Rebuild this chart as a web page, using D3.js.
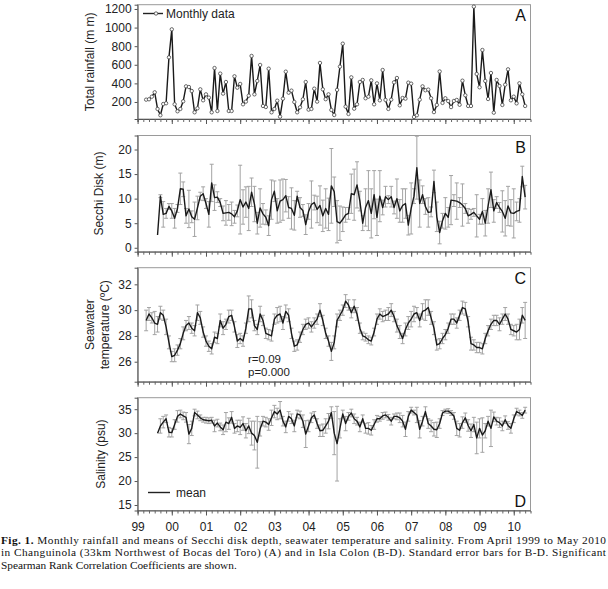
<!DOCTYPE html>
<html><head><meta charset="utf-8">
<script src="https://cdn.jsdelivr.net/npm/d3@7"></script>
<style>html,body{margin:0;padding:0;background:#fff}svg{display:block}</style>
</head><body><svg id="c" width="608" height="589"></svg>
<script>
// ---- DATA (monthly, April 1999 .. May 2010; index 0 = Apr 1999) ----
const startYear = 1999, startMonth = 3; // April (0-based month)
const yearLabels = ["99","00","01","02","03","04","05","06","07","08","09","10"];
const rainTicks = [200,400,600,800,1000,1200];
const secchiTicks = [0,5,10,15,20];
const tempTicks = [26,28,30,32];
const salTicks = [15,20,25,30,35];

const rainfall = [225,229,257,304,125,57,178,186,680,981,
175,100,125,207,368,361,318,89,132,336,
218,282,247,89,565,103,505,290,415,103,
103,476,354,394,175,204,268,695,282,426,
598,157,146,558,89,125,214,42,236,526,
300,322,200,89,143,229,415,118,125,343,
204,620,336,230,282,114,60,330,580,827,
150,71,465,128,175,415,437,240,257,433,
175,400,218,544,222,125,225,411,458,164,
243,236,408,397,39,57,225,368,326,333,
240,91,168,528,190,240,210,145,211,222,
170,429,272,157,157,1225,501,358,759,426,
232,512,85,437,372,168,386,551,218,257,
185,401,282,157];

const secchi = [null,null,null,null,2.6,10.5,6.8,7.0,8.4,7.5,
6.0,8.0,12.0,11.9,6.5,7.9,6.3,5.8,8.1,10.5,
11.0,9.0,6.8,13.2,10.2,10.3,9.2,7.0,7.1,7.2,
6.9,6.3,7.5,9.8,8.3,9.3,8.0,11.3,8.9,5.0,
8.1,6.9,6.2,4.5,9.8,11.5,7.5,9.5,9.8,10.6,
8.2,8.0,6.6,10.5,8.2,7.6,4.7,7.4,8.8,9.2,
7.8,8.6,6.5,8.0,6.8,12.6,11.4,5.3,5.0,5.8,
6.7,7.0,11.0,10.8,12.8,9.5,5.0,8.2,9.6,7.0,
10.8,6.2,10.5,8.2,10.4,9.8,10.4,8.2,10.0,7.5,
8.6,9.0,4.6,8.0,10.5,16.3,9.0,10.8,8.4,7.2,
7.3,13.5,6.3,3.1,5.5,7.0,6.2,9.7,9.6,9.5,
9.2,8.7,8.0,6.5,6.8,7.2,6.5,5.8,7.4,5.0,
8.5,11.8,7.5,9.2,8.2,7.4,6.0,8.5,7.1,7.0,
7.4,7.6,14.5,10.3];
const secchiSE = [0,0,0,0,0,0.3,2.6,1.0,0.6,1.5,
2.0,0.8,3.2,1.5,1.5,3.8,1.2,3.5,2.4,0.8,
1.4,1.0,2.6,3.8,2.6,1.1,0.8,1.5,2.5,1.6,
2.4,1.3,1.2,7.0,3.5,3.1,4.5,2.9,3.6,2.2,
3.9,2.1,1.5,2.0,4.0,2.1,2.5,4.3,4.2,3.3,
2.2,4.2,3.0,1.0,2.0,1.2,2.0,1.6,4.8,1.5,
2.7,4.0,3.2,4.0,3.3,7.6,3.0,4.3,3.5,2.5,
1.5,1.2,4.0,5.2,4.7,2.0,1.5,3.8,6.1,5.0,
4.9,3.7,5.2,1.5,2.1,0.8,2.1,1.3,4.0,2.3,
3.4,3.0,2.0,5.2,1.5,6.4,4.8,1.8,1.6,3.0,
1.0,2.3,3.0,2.3,1.5,3.2,2.0,5.0,1.2,3.7,
1.0,4.3,1.0,1.5,1.0,0.8,4.3,1.0,2.6,2.6,
3.5,3.6,2.3,1.2,1.0,4.2,3.6,4.0,2.7,5.0,
1.9,2.4,2.1,2.4];

const temperature = [29.2,29.7,29.4,29.0,28.9,29.8,29.6,28.7,27.5,26.4,
26.5,26.9,27.4,28.2,28.8,29.0,28.6,28.4,29.8,29.4,
28.3,27.6,27.2,27.0,27.9,27.8,29.2,28.6,28.9,29.5,
29.6,28.7,27.6,27.8,27.6,28.6,30.1,30.1,28.8,28.5,
29.7,29.2,28.2,28.1,28.0,29.3,29.6,29.7,29.0,29.9,
29.6,28.2,27.2,27.3,27.9,28.5,28.9,29.0,28.7,29.0,
29.3,30.0,29.2,28.2,27.6,26.8,27.5,29.2,29.6,30.0,
30.7,30.4,29.8,30.3,29.7,28.6,28.0,27.9,27.7,27.6,
28.3,29.3,29.7,29.5,29.6,29.7,30.0,29.5,28.8,28.3,
27.8,28.5,29.0,29.3,29.7,29.8,29.2,29.9,30.0,30.2,
29.4,28.6,27.3,27.4,27.8,28.1,28.6,29.3,29.3,29.0,
29.6,30.2,30.1,29.1,27.4,27.3,27.1,27.1,27.0,27.8,
28.4,28.9,29.2,29.2,28.9,29.3,29.7,29.3,28.5,28.4,
28.3,28.5,29.6,29.2];
const temperatureSE = [0.8,0.5,0.4,0.9,0.6,0.5,0.4,0.6,0.5,0.4,
0.5,0.4,0.4,0.5,0.4,0.5,0.4,0.4,0.6,0.5,
0.4,0.4,0.4,0.4,0.4,0.4,0.5,0.5,0.4,0.5,
0.4,0.4,0.5,0.4,0.4,0.4,1.0,0.7,0.4,0.4,
0.6,0.4,0.4,0.4,0.4,0.4,0.6,0.6,0.5,0.5,
0.5,0.4,0.4,0.4,0.4,0.4,0.4,0.4,0.4,0.4,
0.4,0.5,0.4,0.4,0.4,0.7,0.5,0.5,0.4,0.4,
0.5,0.4,0.4,0.5,0.5,0.4,0.3,0.3,0.3,0.3,
0.3,0.4,0.4,0.4,0.4,0.5,0.5,0.4,0.5,0.5,
0.4,0.5,0.5,0.6,0.6,0.4,0.5,0.6,0.8,0.6,
0.5,0.5,0.4,0.4,0.4,0.4,0.4,0.4,0.4,0.4,
0.4,0.5,0.5,0.4,0.5,0.4,0.4,0.4,0.4,0.4,
0.4,0.4,0.4,0.4,0.5,0.4,0.5,0.4,0.4,0.4,
0.6,0.8,0.6,1.4];

const salinity = [null,null,null,null,30.0,31.5,32.3,33.0,30.2,30.1,
31.8,33.5,34.0,33.6,33.3,29.8,31.0,34.3,33.8,33.2,
32.8,32.7,32.6,32.7,31.5,32.1,31.3,30.7,32.3,32.0,
33.3,31.0,31.5,31.2,32.0,30.5,31.5,30.0,29.5,28.1,
30.9,32.5,32.3,31.8,33.2,34.5,34.0,34.8,32.5,31.3,
33.5,33.0,31.5,34.0,33.8,32.5,29.8,31.5,33.2,33.8,
32.0,30.5,30.6,31.5,32.5,34.3,30.0,27.8,31.0,34.0,
32.0,33.5,34.2,33.0,32.5,31.3,33.0,31.0,31.0,30.6,
31.8,33.0,33.0,33.6,33.8,33.3,32.5,33.5,33.5,33.2,
32.5,30.8,33.5,34.8,34.3,33.8,30.8,32.5,34.5,32.0,
31.5,30.8,30.7,32.0,34.2,34.6,34.6,34.2,33.6,31.0,
30.6,32.2,33.2,31.6,30.5,31.8,29.0,31.0,29.6,30.5,
32.5,31.0,33.4,32.5,32.2,31.5,32.8,31.6,31.0,33.0,
34.5,34.2,33.7,34.8];
const salinitySE = [0,0,0,0,0,1.5,1.2,0.8,1.0,0.9,
1.0,1.2,0.8,0.8,1.0,2.0,1.5,0.7,0.8,0.6,
0.5,0.6,0.6,0.6,1.2,0.8,0.8,1.0,2.0,1.2,
1.2,1.0,1.2,1.5,1.4,1.5,1.6,2.5,3.0,5.4,
1.5,1.0,1.0,1.2,1.6,1.3,1.2,1.8,1.0,1.2,
1.0,1.0,1.2,0.8,0.8,1.3,2.8,1.2,1.0,0.7,
1.0,1.2,1.3,1.5,1.6,1.2,4.5,7.8,2.0,0.8,
1.5,0.8,0.8,1.0,0.8,1.0,0.8,1.0,1.2,1.0,
1.0,0.7,0.5,0.7,0.6,0.6,0.8,0.5,0.7,1.0,
1.2,1.5,1.0,0.6,0.5,1.6,1.8,1.0,1.0,1.0,
1.2,1.4,1.6,1.0,0.5,0.4,0.5,0.5,0.7,1.5,
1.4,1.2,1.0,1.2,1.4,1.5,3.3,2.0,3.6,1.5,
1.0,3.8,1.0,0.8,1.0,1.0,0.8,0.8,1.0,0.8,
0.7,0.6,0.6,0.6];

const caption1a = "Fig. 1.";
const caption1b = " Monthly rainfall and means of Secchi disk depth, seawater temperature and salinity. From April 1999 to May 2010";
const caption2 = "in Changuinola (33km Northwest of Bocas del Toro) (A) and in Isla Colon (B-D). Standard error bars for B-D. Significant";
const caption3 = "Spearman Rank Correlation Coefficients are shown.";

// ---- CHART ----
const svg = d3.select("#c");
const FONT = "Liberation Sans, Arial, sans-serif";
const tOf = i => startYear + (startMonth + i) / 12;
const x = d3.scaleLinear().domain([1999, 2010.49]).range([137.6, 530.5]);

const panels = [
  {key:"A", top:4.7, bottom:119, domain:[17,1246], ticks:rainTicks, vals:rainfall, se:null,
   title:["Total rainfall (m m)"], titleX:[90], letterY:15},
  {key:"B", top:135.5, bottom:251.7, domain:[-0.8,22.85], ticks:secchiTicks, vals:secchi, se:secchiSE,
   title:["Secchi Disk (m)"], titleX:[99], letterY:147},
  {key:"C", top:267.7, bottom:381.7, domain:[24.45,33.29], ticks:tempTicks, vals:temperature, se:temperatureSE,
   title:["Seawater","temperature (ºC)"], titleX:[90,105], letterY:278},
  {key:"D", top:397.7, bottom:510.5, domain:[13.85,37.4], ticks:salTicks, vals:salinity, se:salinitySE,
   title:["Salinity (psu)"], titleX:[101], letterY:501}
];

const minorTicks = d3.range(0, 69).map(k => 1999 + k/6).filter(v => v <= 2010.49);
const majorTicks = d3.range(1999, 2011);

panels.forEach((p, pi) => {
  const y = d3.scaleLinear().domain(p.domain).range([p.bottom, p.top]);
  const g = svg.append("g");
  // frame
  g.append("rect").attr("x", x.range()[0]).attr("y", p.top)
    .attr("width", x.range()[1]-x.range()[0]).attr("height", p.bottom-p.top)
    .attr("fill","none").attr("stroke","#9a9a9a").attr("stroke-width",1);

  // y axis
  const ya = g.append("g").attr("transform",`translate(${x.range()[0]},0)`)
    .call(d3.axisLeft(y).tickValues(p.ticks).tickSize(3).tickPadding(3).tickFormat(d3.format("d")));
  ya.select(".domain").attr("stroke","#555");
  ya.selectAll(".tick line").attr("stroke","#555");
  ya.selectAll("text").attr("font-family",FONT).attr("font-size",12).attr("fill","#222");

  // x axis
  const xa1 = g.append("g").attr("transform",`translate(0,${p.bottom})`)
    .call(d3.axisBottom(x).tickValues(minorTicks).tickSize(3).tickFormat(""));
  xa1.select(".domain").attr("stroke","#555");
  xa1.selectAll(".tick line").attr("stroke","#666");
  const xa2 = g.append("g").attr("transform",`translate(0,${p.bottom})`)
    .call(d3.axisBottom(x).tickValues(majorTicks).tickSize(5).tickPadding(7)
      .tickFormat((d,i) => pi === 3 ? (yearLabels[i] || "") : ""));
  xa2.select(".domain").remove();
  xa2.selectAll(".tick line").attr("stroke","#555");
  xa2.selectAll("text").attr("font-family",FONT).attr("font-size",12).attr("fill","#222");

  // title
  const midY = (p.top + p.bottom) / 2;
  p.title.forEach((t, k) => {
    g.append("text").attr("transform",`translate(${p.titleX[k]},${midY}) rotate(-90)`)
      .attr("text-anchor","middle").attr("dy","0.35em")
      .attr("font-family",FONT).attr("font-size",12).attr("fill","#222").text(t);
  });

  // panel letter
  g.append("text").attr("x",526).attr("y",p.letterY).attr("dy","0.35em")
    .attr("text-anchor","end").attr("font-family",FONT).attr("font-size",16).attr("fill","#111").text(p.key);

  const pts = p.vals.map((v,i) => ({t:tOf(i), v, se: p.se ? p.se[i] : 0}));
  // error bars
  if (p.se) {
    const eb = g.append("g").attr("stroke","#a3a3a3").attr("stroke-width",1);
    pts.filter(d => d.v != null && d.se > 0).forEach(d => {
      const xx = x(d.t), y1 = y(d.v + d.se), y0 = y(d.v - d.se);
      eb.append("line").attr("x1",xx).attr("x2",xx).attr("y1",y1).attr("y2",y0);
      eb.append("line").attr("x1",xx-2).attr("x2",xx+2).attr("y1",y1).attr("y2",y1);
      eb.append("line").attr("x1",xx-2).attr("x2",xx+2).attr("y1",y0).attr("y2",y0);
    });
  }
  // line
  const line = d3.line().defined(d => d.v != null).x(d => x(d.t)).y(d => y(d.v));
  g.append("path").datum(pts).attr("d",line).attr("fill","none")
    .attr("stroke","#1a1a1a").attr("stroke-width",1.4).attr("stroke-linejoin","round");
  if (pi === 0) {
    g.selectAll("circle.pt").data(pts).join("circle").attr("class","pt")
      .attr("cx",d => x(d.t)).attr("cy",d => y(d.v)).attr("r",1.7)
      .attr("fill","#fff").attr("stroke","#444").attr("stroke-width",0.8);
  }
});

// legend A
svg.append("line").attr("x1",143).attr("x2",163).attr("y1",13.5).attr("y2",13.5).attr("stroke","#222").attr("stroke-width",1.4);
svg.append("circle").attr("cx",156).attr("cy",13.5).attr("r",1.7).attr("fill","#fff").attr("stroke","#444").attr("stroke-width",0.8);
svg.append("text").attr("x",166).attr("y",13.5).attr("dy","0.35em").attr("font-family",FONT).attr("font-size",12).attr("fill","#222").text("Monthly data");
// legend D
svg.append("line").attr("x1",148).attr("x2",170).attr("y1",492.5).attr("y2",492.5).attr("stroke","#222").attr("stroke-width",1.4);
svg.append("text").attr("x",176).attr("y",492.5).attr("dy","0.35em").attr("font-family",FONT).attr("font-size",12).attr("fill","#222").text("mean");
// stats C
svg.append("text").attr("x",248).attr("y",358.5).attr("dy","0.35em").attr("font-family",FONT).attr("font-size",11.5).attr("fill","#222").text("r=0.09");
svg.append("text").attr("x",248).attr("y",371.5).attr("dy","0.35em").attr("font-family",FONT).attr("font-size",11.5).attr("fill","#222").text("p=0.000");

// caption
const SERIF = "Liberation Serif, Times New Roman, serif";
const CAP = 11.3;
const c1 = svg.append("text").attr("x",1).attr("y",543.5).attr("font-family",SERIF).attr("font-size",CAP).attr("fill","#111")
  .attr("textLength",605).attr("lengthAdjust","spacing");
c1.append("tspan").attr("font-weight","bold").text(caption1a);
c1.append("tspan").text(caption1b);
svg.append("text").attr("x",1).attr("y",556).attr("font-family",SERIF).attr("font-size",CAP).attr("fill","#111")
  .attr("textLength",605).attr("lengthAdjust","spacing").text(caption2);
svg.append("text").attr("x",1).attr("y",568.5).attr("font-family",SERIF).attr("font-size",CAP).attr("fill","#111").text(caption3);
</script></body></html>
